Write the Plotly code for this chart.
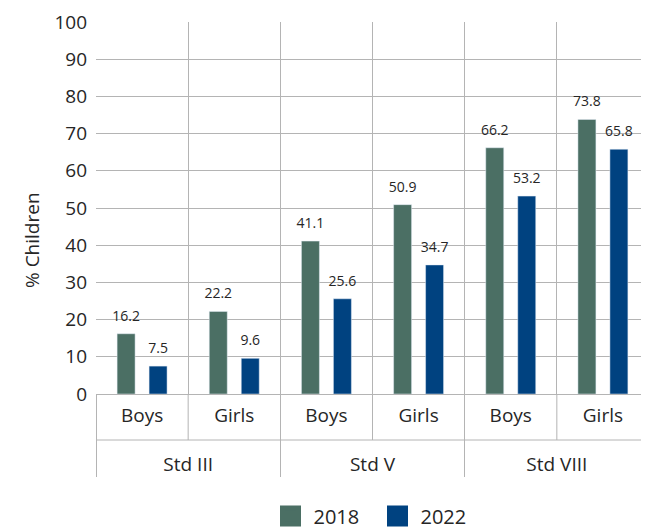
import plotly.graph_objects as go

standards = ["Std III", "Std III", "Std V", "Std V", "Std VIII", "Std VIII"]
genders = ["Boys", "Girls", "Boys", "Girls", "Boys", "Girls"]
y2018 = [16.2, 22.2, 41.1, 50.9, 66.2, 73.8]
y2022 = [7.5, 9.6, 25.6, 34.7, 53.2, 65.8]
series = [("2018", y2018, "#4b6f64"), ("2022", y2022, "#004280")]

FONT = "Open Sans"
TXT = "#262626"
GRID = "#b4b4b4"

# the page body adds an 8px offset, so the figure is 8px smaller than the window
W, H = 641, 523
ML, MT, MR, MB = 88, 14, 0, 137
PH = H - MT - MB
PW = W - ML - MR

# first-level labels get an empty second line so the group labels sit lower
gender_labels = [g + "<br>&nbsp;" for g in genders]
x = [standards, gender_labels]

fig = go.Figure()
for name, vals, col in series:
    fig.add_trace(go.Bar(
        x=x, y=vals, name=name, marker_color=col, showlegend=False,
        offsetgroup=name, alignmentgroup="a",
    ))
for name, vals, col in series:
    fig.add_trace(go.Scatter(
        x=x, y=vals, mode="markers+text", text=[f"{v:.1f}" for v in vals],
        textposition="top center", textfont=dict(family=FONT, size=14, color=TXT),
        marker=dict(size=13.6, color="rgba(0,0,0,0)"), showlegend=False,
        hoverinfo="skip", offsetgroup=name, alignmentgroup="a", cliponaxis=False,
    ))
for name, vals, col in series:
    fig.add_trace(go.Scatter(
        x=[[standards[0]], [gender_labels[0]]], y=[None], mode="markers", name=name,
        marker=dict(symbol="square", size=16, color=col, line=dict(color=col, width=5)),
        offsetgroup=name, alignmentgroup="a", hoverinfo="skip",
    ))

# divider lines below the axis between the Boys / Girls labels
n = len(genders)
sub_dividers = [dict(type="line", xref="paper", yref="paper",
                     x0=(i + 1) / n, x1=(i + 1) / n, y0=0, y1=-46 / PH,
                     line=dict(color=GRID, width=1))
                for i in range(0, n, 2)]

fig.update_layout(
    width=W, height=H,
    margin=dict(l=ML, r=MR, t=MT, b=MB, autoexpand=False),
    paper_bgcolor="white", plot_bgcolor="white",
    barmode="group", bargap=0.306, bargroupgap=0.4375,
    scattermode="group", scattergap=0.306,
    font=dict(family=FONT, size=19, color=TXT),
    showlegend=True,
    legend=dict(orientation="h", x=0.5 + 2 / PW, xanchor="center", y=-122 / PH, yanchor="middle",
                font=dict(family=FONT, size=20, color=TXT), entrywidth=56, itemwidth=36,
                itemsizing="trace"),
    xaxis=dict(
        type="multicategory", showgrid=True, gridcolor=GRID, gridwidth=1,
        ticks="", automargin=False, ticklabelstandoff=4,
        showline=True, linecolor=GRID, linewidth=1,
        showdividers=True, dividercolor=GRID, dividerwidth=1,
        tickfont=dict(family=FONT, size=19, color=TXT),
    ),
    yaxis=dict(
        range=[0, 100], dtick=10, showgrid=True, gridcolor=GRID, gridwidth=1,
        zeroline=False, showline=False, ticks="", ticklabelstandoff=8, automargin=False,
        tickfont=dict(family=FONT, size=19, color=TXT),
    ),
    shapes=[dict(type="line", xref="paper", yref="paper", x0=0, x1=1,
                 y0=-46 / PH, y1=-46 / PH, line=dict(color=GRID, width=1))] + sub_dividers,
    annotations=[dict(text="% Children", xref="paper", yref="paper",
                      x=-64 / PW, y=154 / PH, xanchor="center", yanchor="middle",
                      textangle=-90, showarrow=False,
                      font=dict(family=FONT, size=19, color=TXT))],
)

fig.write_html("out.html")
